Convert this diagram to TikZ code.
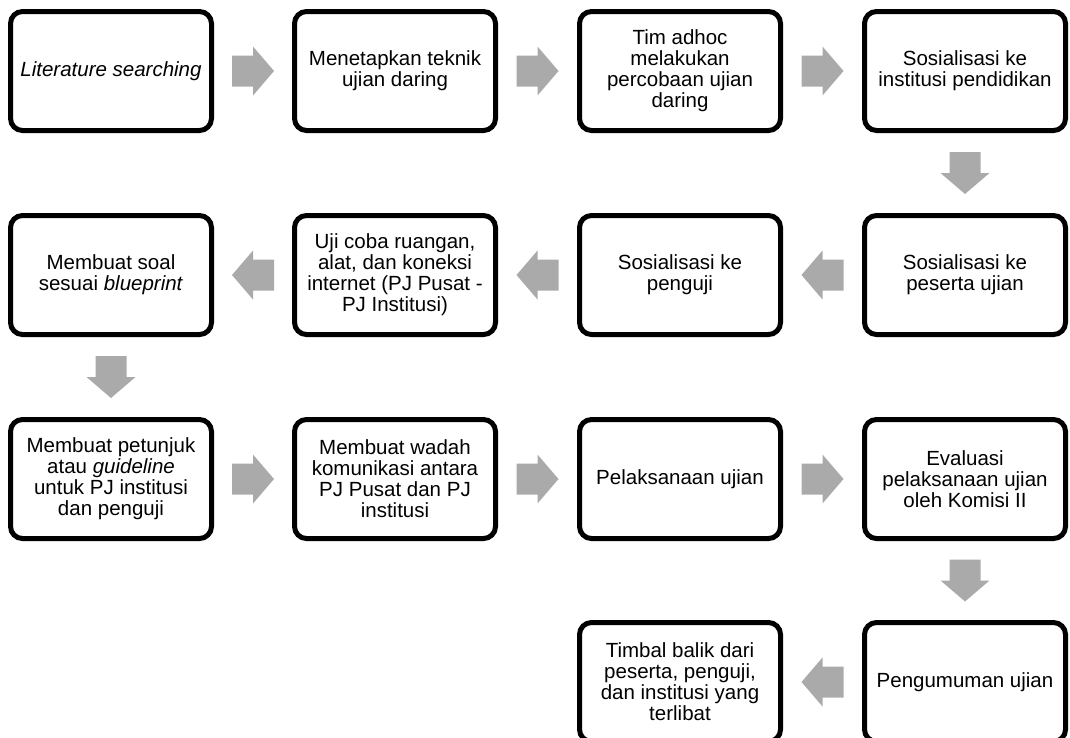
\documentclass[tikz,border=0pt]{standalone}
\usepackage{fontspec}
\setmainfont{Liberation Sans}
\usetikzlibrary{calc}
\definecolor{arrowgray}{RGB}{170,170,170}

% block arrow pointing along +x, centred on the midpoint between two anchors
\newcommand{\blockarrow}[3]{%
  \fill[arrowgray, shift={($(#1)!0.5!(#2)$)}, rotate=#3]
    (-21,-15.5) -- (0,-15.5) -- (0,-24.5) -- (21,0) -- (0,24.5)
    -- (0,15.5) -- (-21,15.5) -- cycle;}

\begin{document}
\begin{tikzpicture}[x=1pt, y=-1pt,
  stepbox/.style={draw=black, line width=5pt, rounded corners=12pt,
    fill=white, minimum width=201pt, minimum height=119pt,
    align=center, inner sep=2pt,
    font=\fontsize{20.5}{21}\selectfont}]
\useasboundingbox (0,0) rectangle (1070,737);

% row 1
\node[stepbox] (n1) at (111,71)  {\textit{Literature searching}};
\node[stepbox] (n2) at (395,71)  {Menetapkan teknik\\ujian daring};
\node[stepbox] (n3) at (680,71)  {Tim adhoc\\melakukan\\percobaan ujian\\daring};
\node[stepbox] (n4) at (965,71)  {Sosialisasi ke\\institusi pendidikan};
% row 2
\node[stepbox] (n5) at (965,275) {Sosialisasi ke\\peserta ujian};
\node[stepbox] (n6) at (680,275) {Sosialisasi ke\\penguji};
\node[stepbox] (n7) at (395,275) {Uji coba ruangan,\\alat, dan koneksi\\internet (PJ Pusat -\\PJ Institusi)};
\node[stepbox] (n8) at (111,275) {Membuat soal\\sesuai \textit{blueprint}};
% row 3
\node[stepbox] (n9)  at (111,479) {Membuat petunjuk\\atau \textit{guideline}\\untuk PJ institusi\\dan penguji};
\node[stepbox] (n10) at (395,479) {Membuat wadah\\komunikasi antara\\PJ Pusat dan PJ\\institusi};
\node[stepbox] (n11) at (680,479) {Pelaksanaan ujian};
\node[stepbox] (n12) at (965,479) {Evaluasi\\pelaksanaan ujian\\oleh Komisi II};
% row 4
\node[stepbox] (n13) at (965,682) {Pengumuman ujian};
\node[stepbox] (n14) at (680,682) {Timbal balik dari\\peserta, penguji,\\dan institusi yang\\terlibat};

% connectors
\blockarrow{n1.east}{n2.west}{0}
\blockarrow{n2.east}{n3.west}{0}
\blockarrow{n3.east}{n4.west}{0}
\blockarrow{n4.south}{n5.north}{-90}
\blockarrow{n5.west}{n6.east}{180}
\blockarrow{n6.west}{n7.east}{180}
\blockarrow{n7.west}{n8.east}{180}
\blockarrow{n8.south}{n9.north}{-90}
\blockarrow{n9.east}{n10.west}{0}
\blockarrow{n10.east}{n11.west}{0}
\blockarrow{n11.east}{n12.west}{0}
\blockarrow{n12.south}{n13.north}{-90}
\blockarrow{n13.west}{n14.east}{180}
\end{tikzpicture}
\end{document}
